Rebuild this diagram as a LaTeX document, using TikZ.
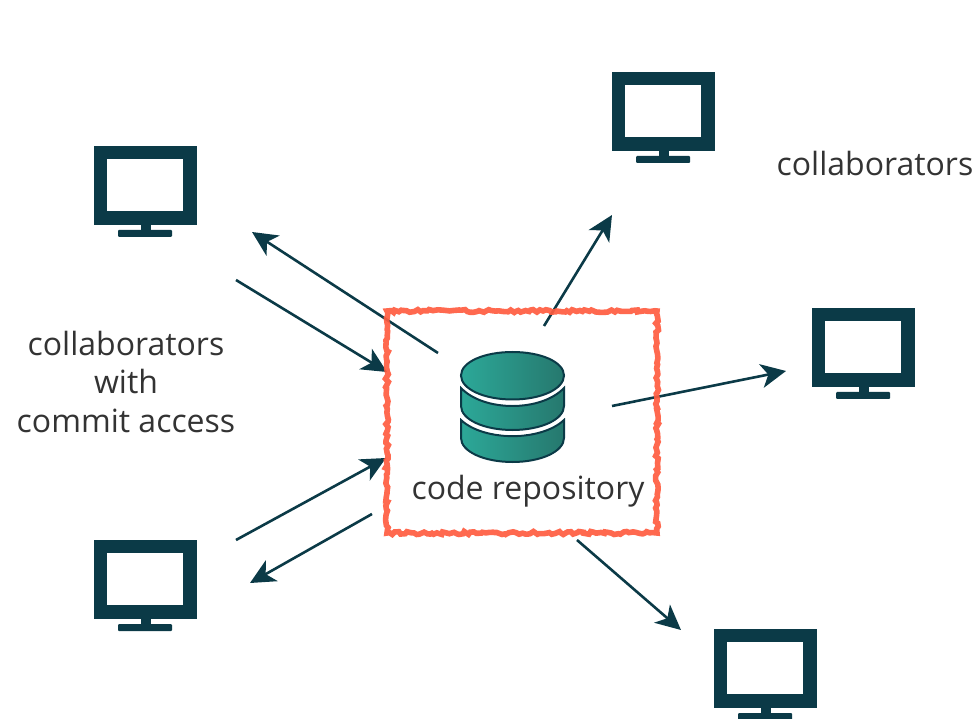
\documentclass[tikz,border=0pt]{standalone}
\usepackage{fontspec}
\setmainfont{Open Sans}
\usetikzlibrary{arrows.meta,decorations.pathmorphing}
\definecolor{navy}{HTML}{0B3A47}
\definecolor{txt}{HTML}{333333}
\definecolor{redbox}{HTML}{FF5C40}
\definecolor{dbl}{HTML}{2CA898}
\definecolor{dbr}{HTML}{26786E}
\tikzset{
  link/.style={draw=navy,line width=2.6pt,-{Stealth[length=25pt,width=24pt,inset=7pt]}},
  label/.style={text=txt,font=\fontsize{32}{38}\selectfont,inner sep=0pt,anchor=base},
  disk/.style={draw=navy,line width=2pt,left color=dbl,right color=dbr},
  gap/.style={draw=white,line width=2.6pt},
  monitor/.pic={
    \fill[navy] (0,0) rectangle (103,79);
    \fill[white] (13,13) rectangle (89,65);
    \fill[navy] (47,79) rectangle (57,87);
    \fill[navy,rounded corners=1pt] (24,84) rectangle (78,91);
  }
}
\begin{document}
\begin{tikzpicture}[x=1pt,y=-1pt]
\useasboundingbox (0,0) rectangle (978,719);
\pic at (94,146) {monitor};
\pic at (94,540) {monitor};
\pic at (612,72) {monitor};
\pic at (812,308) {monitor};
\pic at (714,629) {monitor};

\coordinate (a1s) at (438,353); \coordinate (a1e) at (252,232);
\coordinate (a2s) at (236,280); \coordinate (a2e) at (387,372);
\coordinate (a3s) at (236,540); \coordinate (a3e) at (386,458);
\coordinate (a4s) at (372,514); \coordinate (a4e) at (250,583);
\coordinate (a5s) at (544,326); \coordinate (a5e) at (612,215);
\coordinate (a6s) at (612,406); \coordinate (a6e) at (786,371);
\coordinate (a7s) at (577,540); \coordinate (a7e) at (681,630);
\foreach \n in {1,...,7} {\draw[link] (a\n s) -- (a\n e);}

\draw[redbox,opacity=.92,line width=5.6pt,decorate,
  decoration={random steps,segment length=3pt,amplitude=1.5pt}]
  (387,311) -- (657,311) -- (657,533) -- (387,533) -- cycle;

% database, bottom to top
\path[disk] (461,420) -- (461,438) .. controls (461,451.5) and (484,462) .. (512.5,462)
  .. controls (541,462) and (564,451.5) .. (564,438) -- (564,420)
  .. controls (541,441.5) and (484,441.5) .. (461,420) -- cycle;
\draw[gap] (468,420) .. controls (482,430) and (497,433.5) .. (512.5,433.5)
  .. controls (528,433.5) and (543,430) .. (557,420);
\path[disk] (461,388) -- (461,406) .. controls (461,419.5) and (484,430) .. (512.5,430)
  .. controls (541,430) and (564,419.5) .. (564,406) -- (564,388)
  .. controls (541,412) and (484,412) .. (461,388) -- cycle;
\draw[gap] (468,389) .. controls (482,399) and (497,403) .. (512.5,403)
  .. controls (528,403) and (543,399) .. (557,389);
\path[disk] (461,375.5) .. controls (461,362) and (484,352) .. (512.5,352)
  .. controls (541,352) and (564,362) .. (564,375.5)
  .. controls (564,389) and (541,399.5) .. (512.5,399.5)
  .. controls (484,399.5) and (461,389) .. (461,375.5) -- cycle;

\node[label] (repo) at (528,499) {code repository};
\node[label] (collab) at (875,176) {collaborators};
\node[label] (c1) at (126,356) {collaborators};
\node[label] (c2) at (126,394) {with};
\node[label] (c3) at (126,432) {commit access};
\end{tikzpicture}
\end{document}
